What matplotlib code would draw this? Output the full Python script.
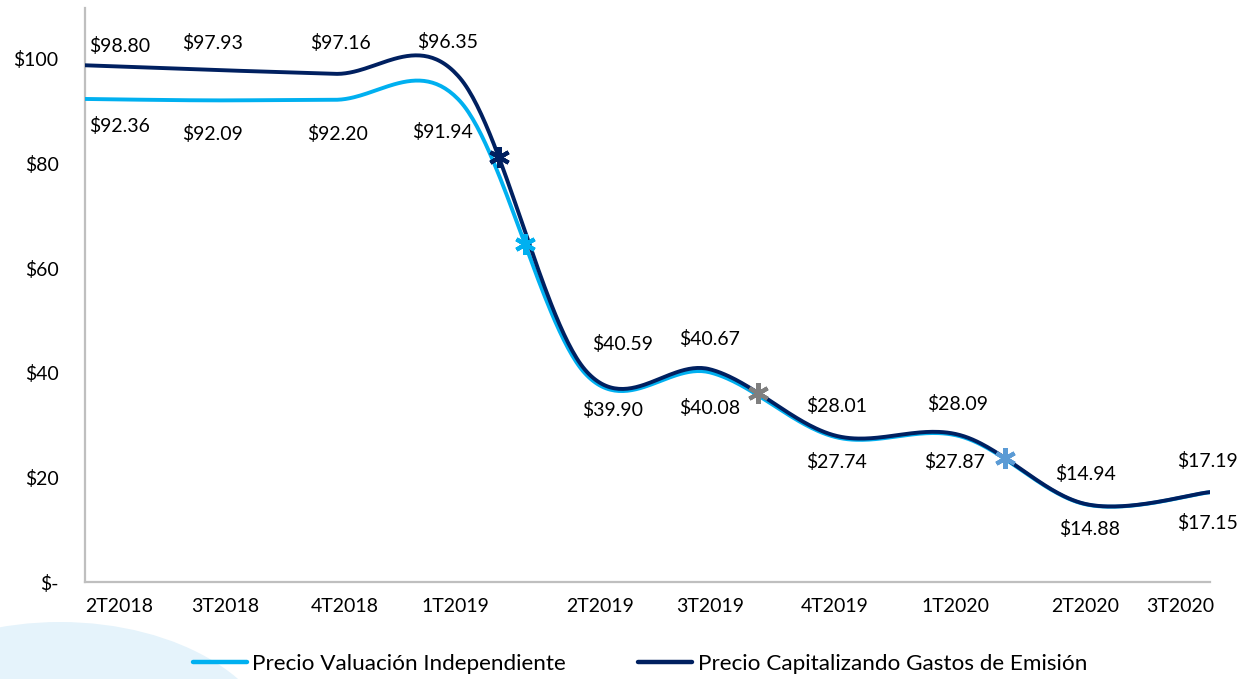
import numpy as np
import matplotlib
matplotlib.use("Agg")
import matplotlib.pyplot as plt
from matplotlib.patches import Ellipse

# ---------------- data ----------------
categories = ["2T2018", "3T2018", "4T2018", "1T2019", "2T2019",
              "3T2019", "4T2019", "1T2020", "2T2020", "3T2020"]
precio_valuacion = [92.36, 92.09, 92.20, 91.94, 39.90, 40.08, 27.74, 27.87, 14.88, 17.15]
precio_capitalizando = [98.80, 97.93, 97.16, 96.35, 40.59, 40.67, 28.01, 28.09, 14.94, 17.19]
yticks = [0, 20, 40, 60, 80, 100]
ytick_labels = ["$-", "$20", "$40", "$60", "$80", "$100"]

# ---------------- layout (positions only) ----------------
xtick_pos = [0.27, 1.12, 2.08, 2.96, 4.12, 5.0, 6.0, 6.96, 8.0, 8.76]
lab_cap_pos = [(0.28, 102.5), (1.02, 103.1), (2.04, 103.1), (2.90, 103.3), (4.30, 45.5),
               (5.0, 46.5), (6.01, 33.6), (6.98, 34.0), (8.0, 20.6), (8.98, 23.1)]
lab_val_pos = [(0.28, 87.2), (1.02, 85.7), (2.02, 85.7), (2.86, 86.0), (4.22, 32.9),
               (5.0, 33.3), (6.01, 22.9), (6.96, 22.9), (8.04, 10.1), (8.98, 11.3)]
asterisks = [("cap", 3.31, "#002060"), ("val", 3.52, "#00B0F0"),
             ("cap", 5.38, "#7F7F7F"), ("cap", 7.36, "#5B9BD5")]

C_LIGHT = "#00B0F0"
C_DARK = "#002060"


def excel_smooth(y, n=60):
    """Excel-style smoothed line: cubic Bezier with 1/6 neighbour control points."""
    x = np.arange(len(y), dtype=float)
    y = np.asarray(y, dtype=float)
    P = np.column_stack([x, y])
    xs, ys = [], []
    m = len(P)
    for i in range(m - 1):
        p0 = P[i - 1] if i > 0 else P[i]
        p1 = P[i]
        p2 = P[i + 1]
        p3 = P[i + 2] if i + 2 < m else P[i + 1]
        c1 = p1 + (p2 - p0) / 6.0
        c2 = p2 - (p3 - p1) / 6.0
        t = np.linspace(0, 1, n)[:, None]
        B = ((1 - t) ** 3) * p1 + 3 * ((1 - t) ** 2) * t * c1 + 3 * (1 - t) * t ** 2 * c2 + t ** 3 * p2
        if i > 0:
            B = B[1:]
        xs.append(B[:, 0])
        ys.append(B[:, 1])
    return np.concatenate(xs), np.concatenate(ys)


FONT = ["Lato", "DejaVu Sans"]
plt.rcParams["font.family"] = FONT
FS = 14

fig = plt.figure(figsize=(12.48, 6.79), dpi=100)

sw = Ellipse((60 / 1248, 1 - 760 / 679), width=2 * 220 / 1248, height=2 * 138 / 679,
             transform=fig.transFigure, facecolor="#E5F3FB", edgecolor="none", zorder=0)
fig.patches.append(sw)

ax = fig.add_axes([85 / 1248, 1 - 582 / 679, (1210 - 85) / 1248, (582 - 8) / 679])
ax.patch.set_alpha(0)

xv, yv = excel_smooth(precio_valuacion)
xc, yc = excel_smooth(precio_capitalizando)
lv, = ax.plot(xv, yv, color=C_LIGHT, lw=2.8, solid_capstyle="round", zorder=3,
              label="Precio Valuación Independiente")
lc, = ax.plot(xc, yc, color=C_DARK, lw=2.8, solid_capstyle="round", zorder=4,
              label="Precio Capitalizando Gastos de Emisión")

for series, fx, col in asterisks:
    xs_, ys_ = (xc, yc) if series == "cap" else (xv, yv)
    yy = np.interp(fx, xs_, ys_)
    ax.plot([fx], [yy], marker=(6, 2, 0), ms=15, mew=3, color=col, zorder=5, linestyle="none")

ax.set_xlim(0, 9)
ax.set_ylim(0, (582 - 8) / 5.23)

for sp in ["top", "right"]:
    ax.spines[sp].set_visible(False)
for sp in ["left", "bottom"]:
    ax.spines[sp].set_color("#BFBFBF")
    ax.spines[sp].set_linewidth(1.6)

ax.set_yticks(yticks)
ax.set_yticklabels(ytick_labels, fontsize=FS, color="#000000")
ax.tick_params(axis="y", length=0, pad=19)
ax.set_xticks([])

for pos, lab in zip(xtick_pos, categories):
    ax.text(pos, -4.6, lab, ha="center", va="center", fontsize=FS, clip_on=False)

for (px, py), v in zip(lab_cap_pos, precio_capitalizando):
    ax.text(px, py, f"${v:.2f}", ha="center", va="center", fontsize=FS, clip_on=False)
for (px, py), v in zip(lab_val_pos, precio_valuacion):
    ax.text(px, py, f"${v:.2f}", ha="center", va="center", fontsize=FS, clip_on=False)

leg = fig.legend(handles=[lv, lc], loc="center", bbox_to_anchor=(640 / 1248, 1 - 664 / 679),
                 ncol=2, frameon=False, prop={"family": FONT, "size": 16.2},
                 handlelength=2.4, handletextpad=0.25, columnspacing=3.2)
for h in leg.legend_handles:
    h.set_linewidth(3.2)

fig.savefig("out.png", dpi=100)
